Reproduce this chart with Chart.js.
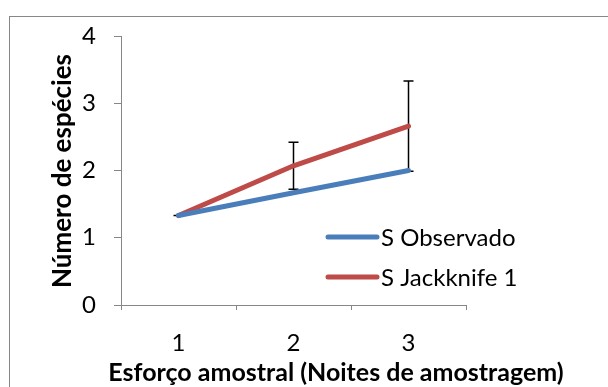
<!DOCTYPE html>
<html>
<head>
<meta charset="utf-8">
<script src="https://cdn.jsdelivr.net/npm/chart.js@4/dist/chart.umd.min.js"></script>
<style>
  body { margin: 0; background: #fff; }
  canvas { display: block; }
</style>
</head>
<body>
<canvas id="chart" width="608" height="387"></canvas>
<script>
// data
const categories = ['1', '2', '3'];
const sObservado = [1.33, 1.67, 2.0];
const sJackknife = [1.33, 2.07, 2.66];
const jackknifeErr = [0, 0.35, 0.67];
const yTicks = [0, 1, 2, 3, 4];
const xTitle = 'Esforço amostral (Noites de amostragem)';
const yTitle = 'Número de espécies';

const FONT = 'Lato, "Open Sans", sans-serif';
const AXIS_GRAY = '#878787';

// frame around the whole chart (Excel chart border)
const frame = {
  id: 'frame',
  beforeDraw(chart) {
    const c = chart.ctx;
    c.save();
    c.strokeStyle = AXIS_GRAY;
    c.lineWidth = 1;
    c.strokeRect(9.5, 16.5, 800, 600);
    c.restore();
  }
};

// error bars for the Jackknife series, drawn under the lines
const errorBars = {
  id: 'errorBars',
  beforeDatasetsDraw(chart) {
    const c = chart.ctx;
    const x = chart.scales.x, y = chart.scales.y;
    c.save();
    c.strokeStyle = '#000';
    c.lineWidth = 1.5;
    sJackknife.forEach((v, i) => {
      const px = x.getPixelForValue(i);
      const top = y.getPixelForValue(v + jackknifeErr[i]);
      const bot = y.getPixelForValue(v - jackknifeErr[i]);
      c.beginPath();
      c.moveTo(px, top); c.lineTo(px, bot);
      c.moveTo(px - 5, top); c.lineTo(px + 5, top);
      c.moveTo(px - 5, bot); c.lineTo(px + 5, bot);
      c.stroke();
    });
    c.restore();
  }
};

// legend inside the plot and the axis titles, Excel style
const extras = {
  id: 'extras',
  afterDraw(chart) {
    const c = chart.ctx;
    c.save();
    c.fillStyle = '#000';
    c.font = '24px ' + FONT;
    c.textBaseline = 'middle';
    chart.data.datasets.forEach((ds, i) => {
      const ly = 237 + i * 40;
      c.strokeStyle = ds.borderColor;
      c.lineWidth = 5;
      c.lineCap = 'round';
      c.beginPath();
      c.moveTo(328, ly); c.lineTo(377, ly);
      c.stroke();
      c.fillText(ds.label, 381, ly + 1);
    });

    c.textAlign = 'center';
    c.font = 'bold 25px ' + FONT;
    c.fillText(xTitle, 336, 373);

    c.translate(63, 171);
    c.rotate(-Math.PI / 2);
    c.font = 'bold 26px ' + FONT;
    c.fillText(yTitle, 0, 0);
    c.restore();
  }
};

new Chart(document.getElementById('chart'), {
  type: 'line',
  data: {
    labels: categories,
    datasets: [
      { label: 'S Observado', data: sObservado, borderColor: '#4A7EBB', borderWidth: 5 },
      { label: 'S Jackknife 1', data: sJackknife, borderColor: '#BE4B48', borderWidth: 5 }
    ]
  },
  options: {
    responsive: false,
    animation: false,
    layout: { padding: { top: 36, right: 142, left: 0, bottom: 0 } },
    elements: {
      point: { radius: 0 },
      line: { tension: 0, borderCapStyle: 'round', borderJoinStyle: 'round' }
    },
    plugins: { legend: { display: false }, tooltip: { enabled: false } },
    scales: {
      x: {
        offset: true,
        grid: { offset: true, drawOnChartArea: false, tickLength: 5, color: AXIS_GRAY },
        border: { color: AXIS_GRAY, width: 1 },
        ticks: { color: '#000', font: { family: FONT, size: 24 }, padding: 19 },
        afterFit(s) { s.height = 82; }
      },
      y: {
        min: 0, max: 4,
        afterBuildTicks(s) { s.ticks = yTicks.map(v => ({ value: v })); },
        grid: { drawOnChartArea: false, tickLength: 7, color: AXIS_GRAY },
        border: { color: AXIS_GRAY, width: 1 },
        ticks: { color: '#000', font: { family: FONT, size: 24 }, padding: 18 },
        afterFit(s) { s.width = 121; }
      }
    }
  },
  plugins: [frame, errorBars, extras]
});
</script>
</body>
</html>
